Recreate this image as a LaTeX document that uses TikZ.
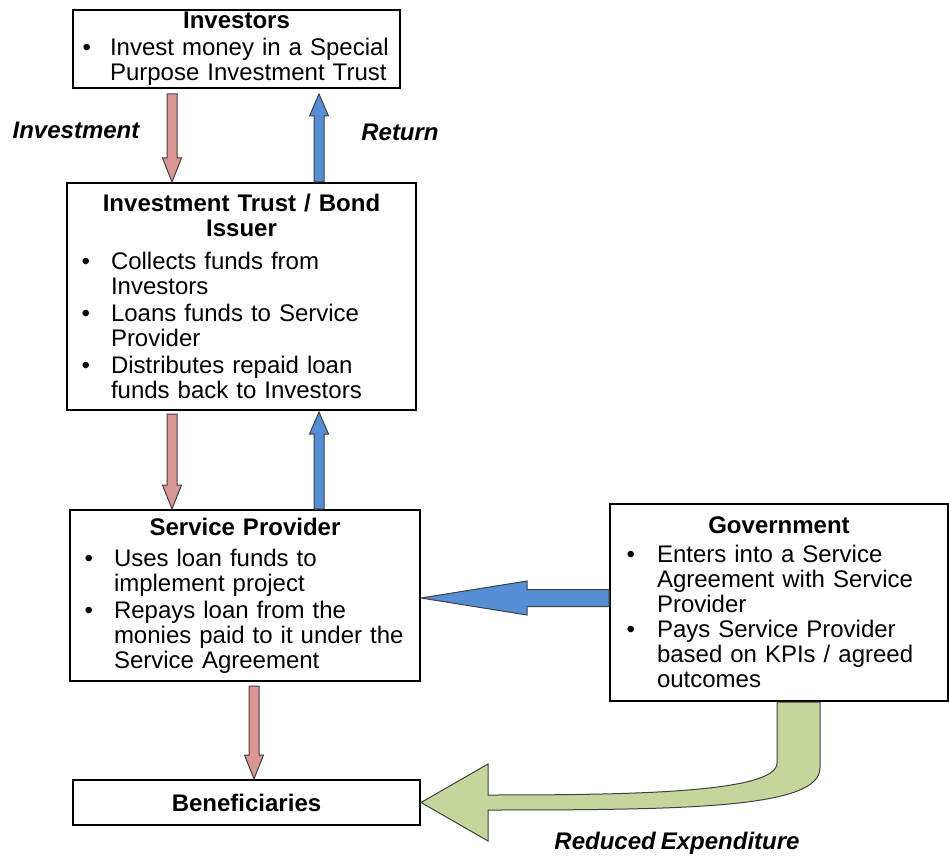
\documentclass[tikz,border=0pt]{standalone}
\usepackage{fontspec}
\setmainfont[WordSpace=0.75]{Liberation Sans}
\usepackage{enumitem}
\usetikzlibrary{calc, positioning}

\definecolor{pinkfill}{HTML}{D99694}
\definecolor{bluefill}{HTML}{558ED5}
\definecolor{greenfill}{HTML}{C3D69B}
\definecolor{edgegray}{HTML}{404040}

\setlist[itemize]{nosep, itemsep=1pt, topsep=2pt, leftmargin=19pt, labelsep=10.5pt}

% block arrow: style, from, to, half shaft, half head, head length
\newcommand{\flowarrow}[6]{%
  \path (#2) coordinate (fa-s) (#3) coordinate (fa-e);
  \path ($(fa-e)!#6!(fa-s)$) coordinate (fa-h);
  \draw[#1] ($(fa-s)!#4!90:(fa-e)$) -- ($(fa-h)!#4!90:(fa-e)$)
    -- ($(fa-h)!#5!90:(fa-e)$) -- (fa-e) -- ($(fa-h)!#5!-90:(fa-e)$)
    -- ($(fa-h)!#4!-90:(fa-e)$) -- ($(fa-s)!#4!-90:(fa-e)$) -- cycle;
}

\begin{document}
\begin{tikzpicture}[x=0.5pt, y=-0.5pt,
    font=\fontsize{12}{12.5}\selectfont,
    box/.style={draw, line width=1pt, fill=white, inner xsep=3pt, inner ysep=0pt, align=left},
    pinkarrow/.style={fill=pinkfill, draw=edgegray, line width=0.5pt, line join=miter},
    bluearrow/.style={fill=bluefill, draw=edgegray, line width=0.5pt, line join=miter},
    greenarrow/.style={fill=greenfill, draw=edgegray, line width=0.5pt, line join=miter},
    lbl/.style={font=\fontsize{12}{12.5}\selectfont\bfseries\itshape}]
  \useasboundingbox (0,0) rectangle (949,856);

  % Boxes
  \node[box, text width=157.5pt, minimum height=39pt] (inv) at (236.5,49)
    {{\centering\bfseries Investors\par}
     \begin{itemize}[leftmargin=15.5pt, labelsep=9.5pt, topsep=1pt]
       \item Invest money in a Special\newline Purpose Investment Trust
     \end{itemize}};
  \node[box, text width=168.5pt, minimum height=113.5pt] (trust) at (241.5,296.5)
    {{\centering\bfseries Investment Trust / Bond\\ Issuer\par}
     \begin{itemize}[topsep=4pt]
       \item Collects funds from\newline Investors
       \item Loans funds to Service\newline Provider
       \item Distributes repaid loan\newline funds back to Investors
     \end{itemize}};
  \node[box, text width=169pt, minimum height=85.5pt] (sp) at (245,595.5)
    {{\centering\bfseries Service Provider\par}
     \begin{itemize}[topsep=3pt]
       \item Uses loan funds to\newline implement project
       \item Repays loan from the\newline monies paid to it under the\newline Service Agreement
     \end{itemize}};
  \node[box, text width=163pt, minimum height=98.5pt] (gov) at (779,602.5)
    {{\centering\bfseries Government\par}
     \begin{itemize}[leftmargin=20.5pt, labelsep=11pt, itemsep=0pt]
       \item Enters into a Service\newline Agreement with Service\newline Provider
       \item Pays Service Provider\newline based on KPIs / agreed\newline outcomes
     \end{itemize}};
  \node[box, text width=167.5pt, minimum height=22.5pt, align=center,
        font=\fontsize{12}{12.5}\selectfont\bfseries] (ben) at (246.5,802.5) {Beneficiaries};

  % Arrow columns
  \coordinate (colA) at (172,0);
  \coordinate (colB) at (319,0);
  \coordinate (colC) at (254,0);
  \coordinate (rowG) at (0,598);

  % Arrows
  \flowarrow{pinkarrow}{$(inv.south -| colA)+(0,5)$}{trust.north -| colA}{2.5pt}{4.75pt}{12pt}
  \flowarrow{bluearrow}{trust.north -| colB}{$(inv.south -| colB)+(0,5)$}{2.5pt}{4.75pt}{11pt}
  \flowarrow{pinkarrow}{$(trust.south -| colA)+(0,3)$}{sp.north -| colA}{2.5pt}{4.75pt}{12pt}
  \flowarrow{bluearrow}{sp.north -| colB}{$(trust.south -| colB)+(0,1)$}{2.5pt}{4.75pt}{11pt}
  \flowarrow{pinkarrow}{$(sp.south -| colC)+(0,4)$}{ben.north -| colC}{2.5pt}{4.75pt}{12pt}
  \flowarrow{bluearrow}{gov.west |- rowG}{sp.east |- rowG}{4.25pt}{8.5pt}{53pt}

  % Curved arrow to beneficiaries
  \coordinate (gs1) at ($(gov.south west)+(168,0)$);
  \coordinate (gs2) at ($(gov.south west)+(211,0)$);
  \draw[greenarrow] (gs1) -- ++(0,61)
    .. controls +(0,30) and +(140,0) .. ($(ben.east)+(67,-7.5)$)
    -- ++(0,-31) -- (ben.east) -- ($(ben.east)+(67,38.5)$) -- ++(0,-31)
    .. controls +(200,0) and +(0,40) .. ($(gs2)+(0,66)$)
    -- (gs2) -- cycle;

  % Labels
  \node[lbl] (invlbl) at (76,130) {Investment};
  \node[lbl] (retlbl) at (400,132) {Return};
  \node[lbl] (redlbl) at (677,843) {Reduced Expenditure};
\end{tikzpicture}
\end{document}
